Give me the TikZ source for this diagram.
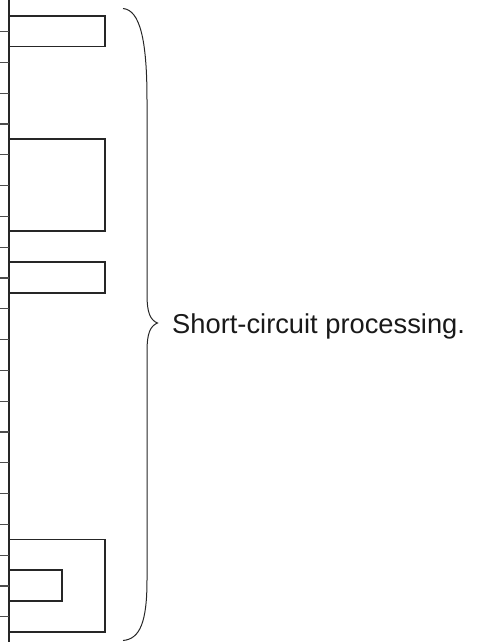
\documentclass[tikz,border=0pt]{standalone}
\usepackage{fontspec}
\setmainfont{Liberation Sans}
\begin{document}
\begin{tikzpicture}[x=1pt,y=-1pt,
  ln/.style={line width=1.1pt,draw=black!85},
  tick/.style={line width=1.1pt,draw=black!70},
  label/.style={inner sep=0pt,anchor=base west,font=\fontsize{27.3}{30}\selectfont,text=black!90}]
\useasboundingbox (0,0) rectangle (477,642);
% main vertical line
\draw[ln] (9,0) -- (9,642);
% ticks
\foreach \k in {0,...,19}{
  \draw[tick] (0,{31.6+30.8*\k}) -- (9,{31.6+30.8*\k});
}
% boxes (open on the left)
\draw[ln] (9,16) -- (105,16) -- (105,46.5) -- (9,46.5);
\draw[ln] (9,139) -- (105,139) -- (105,231) -- (9,231);
\draw[ln] (9,262) -- (105,262) -- (105,293) -- (9,293);
\draw[ln] (9,539.5) -- (105,539.5) -- (105,632) -- (9,632);
\draw[ln] (9,570) -- (62,570) -- (62,601) -- (9,601);
% brace
\coordinate (btop) at (123,8.5);
\coordinate (btip) at (157.5,323);
\coordinate (bbot) at (123,640.5);
\draw[ln,line width=1pt] (btop) .. controls (140,10) and (147,40) .. (147,100) -- (147,295)
  .. controls (147,312) and (150,320) .. (btip)
  .. controls (150,326) and (147,334) .. (147,351) -- (147,580)
  .. controls (147,622) and (140,639) .. (bbot);
\node[label] (txt) at (172,333) {Short-circuit processing.};
\end{tikzpicture}
\end{document}
